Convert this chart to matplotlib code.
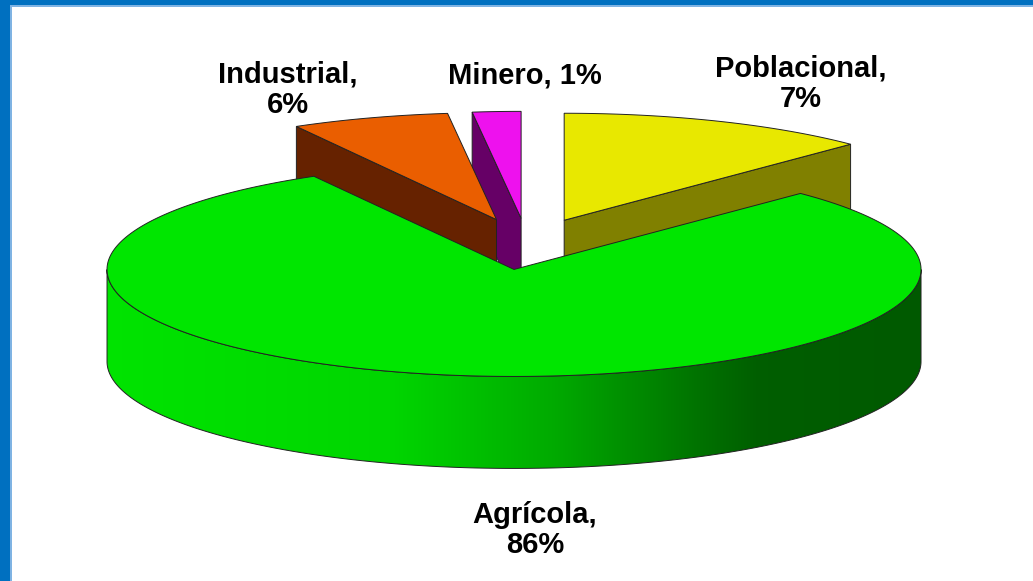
import numpy as np
import matplotlib
matplotlib.use('Agg')
import matplotlib.pyplot as plt
from matplotlib.patches import Polygon, Rectangle

# slices, clockwise from 12 o'clock
names = ['Poblacional', 'Agrícola', 'Industrial', 'Minero']
pct_labels = ['7%', '86%', '6%', '1%']
# wedge sizes as they are drawn in the picture (the arcs are wider than the printed %)
drawn_share = [12.3, 78.6, 6.2, 1.9]

top_colors = ['#e8e800', '#00e600', '#ea5e00', '#ee11ee']
cut_colors = ['#808000', '#009000', '#662200', '#660066']

W, H = 1033, 581
cx, cy = 527, 244      # pie centre (pixels)
rx, ry = 407, 107      # half axes of top ellipse
depth = 92             # thickness of the pie
explode = 0.24

fig = plt.figure(figsize=(W / 100, H / 100), dpi=100)
ax = fig.add_axes([0, 0, 1, 1])
ax.set_xlim(0, W)
ax.set_ylim(H, 0)
ax.axis('off')

shares = np.array(drawn_share) / sum(drawn_share) * 360
starts = np.concatenate([[0], np.cumsum(shares)[:-1]])
ends = starts + shares


def rim(theta, ox, oy):
    t = np.radians(theta)
    return ox + rx * np.sin(t), oy - ry * np.cos(t)


def shade(s):
    # light comes from the left: darker towards the right side
    return np.interp(s, [-1, -0.3, 0.1, 0.45, 0.6, 1], [0.99, 0.93, 0.74, 0.5, 0.41, 0.39])


# back to front
order = sorted(range(len(names)), key=lambda i: np.cos(np.radians((starts[i] + ends[i]) / 2)), reverse=True)

for i in order:
    t0, t1 = starts[i], ends[i]
    mid = np.radians((t0 + t1) / 2)
    ox = cx + explode * rx * np.sin(mid)
    oy = cy - explode * ry * np.cos(mid)
    rgb = np.array(matplotlib.colors.to_rgb(top_colors[i]))

    # front-facing part of the outer wall, shaded left to right
    a0, a1 = max(t0, 90), min(t1, 270)
    if a1 > a0:
        th = np.linspace(a0, a1, 400)
        xs, ys = rim(th, ox, oy)
        outline = list(zip(xs, ys)) + list(zip(xs[::-1], ys[::-1] + depth))
        wall = Polygon(outline, closed=True, facecolor='none', edgecolor='none')
        ax.add_patch(wall)
        gx = np.linspace(xs.min(), xs.max(), 600)
        f = shade((gx - ox) / rx)
        img = np.clip(f[None, :, None] * rgb[None, None, :], 0, 1)
        im = ax.imshow(img, extent=(xs.min(), xs.max(), ys.max() + depth, ys.min()),
                       aspect='auto', interpolation='bilinear')
        im.set_clip_path(wall)
        ax.add_patch(Polygon(outline, closed=True, fill=False, edgecolor='#222222', lw=0.7))
        ax.set_xlim(0, W)
        ax.set_ylim(H, 0)

    # cut faces that look towards the viewer
    faces = []
    if 180 < t0 < 360:
        faces.append(t0)
    if 0 < t1 < 180:
        faces.append(t1)
    for t in faces:
        xr, yr = rim(t, ox, oy)
        ax.add_patch(Polygon([(ox, oy), (xr, yr), (xr, yr + depth), (ox, oy + depth)],
                             closed=True, facecolor=cut_colors[i], edgecolor='#222222', lw=0.7))

    # top face
    th = np.linspace(t0, t1, int(t1 - t0) * 2 + 2)
    xs, ys = rim(th, ox, oy)
    top = [(ox, oy)] + list(zip(xs, ys))
    ax.add_patch(Polygon(top, closed=True, facecolor=top_colors[i], edgecolor='#222222', lw=0.7))

# data labels
label_text = [names[0] + ',\n' + pct_labels[0],
              names[1] + ',\n' + pct_labels[1],
              names[2] + ',\n' + pct_labels[2],
              names[3] + ', ' + pct_labels[3]]
label_pos = [(801, 84), (535, 530), (288, 90), (525, 76)]
for txt, (lx, ly) in zip(label_text, label_pos):
    ax.text(lx, ly, txt, ha='center', va='center', fontsize=21, fontweight='bold',
            family=['Liberation Sans', 'DejaVu Sans'], linespacing=1.1, color='black')

# blue slide frame
ax.add_patch(Rectangle((0, 0), W, 5, facecolor='#0070c0', edgecolor='none', clip_on=False))
ax.add_patch(Rectangle((0, 5), W, 1.5, facecolor='#7fb3e3', edgecolor='none', clip_on=False))
ax.add_patch(Rectangle((0, 0), 10, H, facecolor='#0070c0', edgecolor='none', clip_on=False))
ax.add_patch(Rectangle((10, 6), 1.5, H, facecolor='#7fb3e3', edgecolor='none', clip_on=False))

plt.savefig('out.png', dpi=100)
